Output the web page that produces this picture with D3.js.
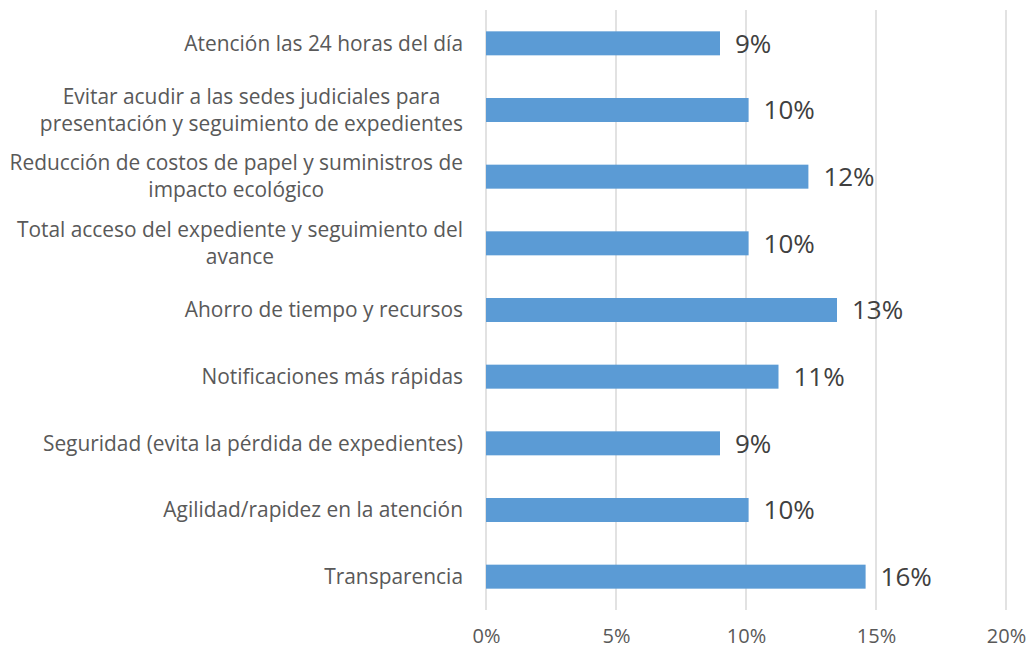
<!DOCTYPE html>
<html>
<head>
<meta charset="utf-8">
<script src="https://cdn.jsdelivr.net/npm/d3@7"></script>
<style>
  body { margin: 0; background: #fff; }
  svg { display: block; font-family: "Open Sans", sans-serif; }
</style>
</head>
<body>
<svg id="chart"></svg>
<script>
// categories, top to bottom (line breaks as in the original)
const categories = [
  ["Atención las 24 horas del día"],
  ["Evitar acudir a las sedes judiciales para", "presentación y seguimiento de expedientes"],
  ["Reducción de costos de papel y suministros de", "impacto ecológico"],
  ["Total acceso del expediente y seguimiento del", "avance"],
  ["Ahorro de tiempo y recursos"],
  ["Notificaciones más rápidas"],
  ["Seguridad (evita la pérdida de expedientes)"],
  ["Agilidad/rapidez en la atención"],
  ["Transparencia"]
];
const values = [9.0, 10.1, 12.4, 10.1, 13.5, 11.25, 9.0, 10.1, 14.6];
const valueLabels = ["9%", "10%", "12%", "10%", "13%", "11%", "9%", "10%", "16%"];
const xTicks = [0, 5, 10, 15, 20];

const width = 1034, height = 648;
const margin = { top: 10, right: 28, bottom: 38, left: 486 };
const innerW = width - margin.left - margin.right;
const innerH = height - margin.top - margin.bottom;

const svg = d3.select("#chart").attr("width", width).attr("height", height);
const g = svg.append("g").attr("transform", `translate(${margin.left},${margin.top})`);

const x = d3.scaleLinear().domain([0, 20]).range([0, innerW]);
const y = d3.scaleBand().domain(d3.range(categories.length)).range([0, innerH]).paddingInner(0.64).paddingOuter(0.32);

// gridlines
g.selectAll(".grid")
  .data(xTicks)
  .enter()
  .append("line")
  .attr("x1", (d) => x(d))
  .attr("x2", (d) => x(d))
  .attr("y1", 0)
  .attr("y2", innerH)
  .attr("stroke", "#d9d9d9")
  .attr("stroke-width", 1.5);

// x axis labels
const xAxis = g.append("g")
  .attr("transform", `translate(0,${innerH})`)
  .call(d3.axisBottom(x).tickValues(xTicks).tickFormat((d) => d + "%").tickSize(0).tickPadding(19));
xAxis.select(".domain").remove();
xAxis.selectAll("text")
  .attr("fill", "#595959")
  .style("font-size", "20px")
  .style("font-family", "'Open Sans', sans-serif");

// bars
g.selectAll(".bar")
  .data(values)
  .enter()
  .append("rect")
  .attr("x", x(0))
  .attr("y", (d, i) => y(i))
  .attr("width", (d) => x(d) - x(0))
  .attr("height", y.bandwidth())
  .attr("fill", "#5b9bd5");

// value labels
g.selectAll(".vlabel")
  .data(values)
  .enter()
  .append("text")
  .attr("x", (d) => x(d) + 15)
  .attr("y", (d, i) => y(i) + y.bandwidth() / 2)
  .attr("dy", "0.36em")
  .attr("fill", "#404040")
  .style("font-size", "26px")
  .text((d, i) => valueLabels[i]);

// category labels: block right-aligned, lines centred inside the block
const labelRight = -23;
const lineH = 27;
categories.forEach((lines, i) => {
  const t = g.append("text")
    .attr("fill", "#595959")
    .style("font-size", "20.9px")
    .attr("text-anchor", "middle");
  const cy = y(i) + y.bandwidth() / 2;
  lines.forEach((ln, j) => {
    t.append("tspan")
      .attr("x", 0)
      .attr("y", cy + (j - (lines.length - 1) / 2) * lineH)
      .attr("dy", "0.35em")
      .text(ln);
  });
  let maxW = 0;
  t.selectAll("tspan").each(function () {
    maxW = Math.max(maxW, this.getComputedTextLength());
  });
  t.selectAll("tspan").attr("x", labelRight - maxW / 2);
});
</script>
</body>
</html>
